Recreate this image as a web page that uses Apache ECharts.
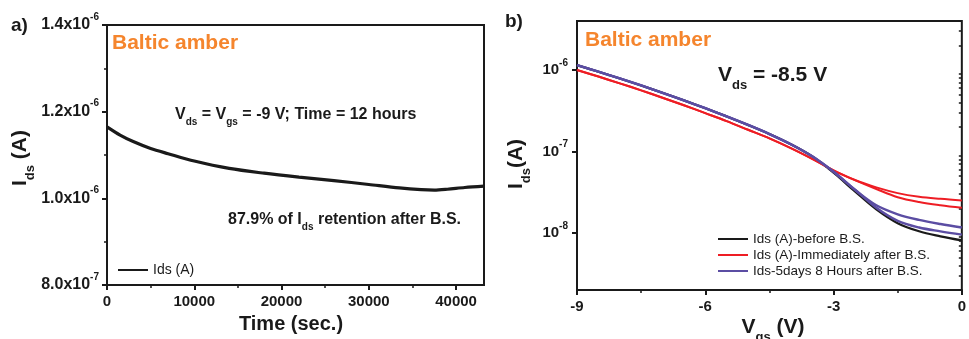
<!DOCTYPE html>
<html>
<head>
<meta charset="utf-8">
<script src="https://cdn.jsdelivr.net/npm/echarts@6/dist/echarts.min.js"></script>
<style>
  html, body { margin: 0; padding: 0; background: #ffffff; }
  #chart { width: 969px; height: 339px; }
</style>
</head>
<body>
<div id="chart"></div>
<script>
// ---- Panel a: drain current during 12 h bias stress ----
const stressTime = [0, 1500, 3000, 5000, 7000, 10000, 14000, 18000, 22000, 26000, 30000, 33500, 36000, 37500, 39000, 41000, 43200];
const stressIds = [1.165e-6, 1.146e-6, 1.131e-6, 1.115e-6, 1.103e-6, 1.086e-6, 1.069e-6, 1.058e-6, 1.049e-6,
                   1.041e-6, 1.032e-6, 1.024e-6, 1.020e-6, 1.019e-6, 1.021e-6, 1.025e-6, 1.028e-6];
const timeMajorTicks = [0, 10000, 20000, 30000, 40000];
const timeMinorTicks = [5000, 15000, 25000, 35000];

// ---- Panel b: transfer curves (forward / reverse sweep) ----
const vgs = [-9, -8.5, -8, -7.5, -7, -6.5, -6, -5.5, -5, -4.5, -4, -3.5, -3, -2.5, -2, -1.5, -1, -0.5, 0];
const idsBefore = [1.15e-6, 9.55e-7, 7.89e-7, 6.47e-7, 5.26e-7, 4.25e-7, 3.40e-7, 2.70e-7, 2.12e-7, 1.64e-7,
                   1.23e-7, 8.73e-8, 5.50e-8, 3.24e-8, 1.95e-8, 1.32e-8, 1.05e-8, 9.12e-9, 8.13e-9];
const idsAfterFwd = [1.00e-6, 8.32e-7, 6.87e-7, 5.64e-7, 4.58e-7, 3.70e-7, 2.96e-7, 2.36e-7, 1.85e-7, 1.45e-7,
                     1.10e-7, 8.13e-8, 5.89e-8, 4.47e-8, 3.63e-8, 3.09e-8, 2.79e-8, 2.63e-8, 2.51e-8];
const idsAfterRev = [1.00e-6, 8.32e-7, 6.87e-7, 5.64e-7, 4.58e-7, 3.70e-7, 2.96e-7, 2.36e-7, 1.85e-7, 1.45e-7,
                     1.10e-7, 8.13e-8, 5.89e-8, 4.47e-8, 3.47e-8, 2.75e-8, 2.40e-8, 2.19e-8, 2.04e-8];
const ids5dFwd = [1.15e-6, 9.55e-7, 7.89e-7, 6.47e-7, 5.26e-7, 4.25e-7, 3.40e-7, 2.70e-7, 2.12e-7, 1.64e-7,
                  1.23e-7, 8.73e-8, 5.64e-8, 3.40e-8, 2.19e-8, 1.70e-8, 1.45e-8, 1.29e-8, 1.17e-8];
const ids5dRev = [1.15e-6, 9.55e-7, 7.89e-7, 6.47e-7, 5.26e-7, 4.25e-7, 3.40e-7, 2.70e-7, 2.12e-7, 1.64e-7,
                  1.23e-7, 8.73e-8, 5.64e-8, 3.40e-8, 2.04e-8, 1.41e-8, 1.17e-8, 1.05e-8, 9.55e-9];
const logMin = 2e-9, logMax = 4e-6;
const decadeExponents = [-8, -7, -6];
const minorMantissas = [2, 3, 4, 5, 6, 7, 8, 9];

const nameBefore = 'Ids (A)-before B.S.';
const nameAfter = 'Ids (A)-Immediately after B.S.';
const name5d = 'Ids-5days 8 Hours after B.S.';

const FONT = "'Liberation Sans', Arial, Helvetica, sans-serif";
const INK = '#1a1a1a';
const ORANGE = '#F5852D';
const RED = '#EE1D24';
const PURPLE = '#5B4DA3';

// log-decade axis is drawn on a linear axis holding log10(I)
const toLog = arr => arr.map(v => Math.log10(v));
const pairs = (xs, ys) => xs.map((x, i) => [x, ys[i]]);
const decadeTicks = decadeExponents.slice();
const minorLogTicks = [];
[-9, -8, -7, -6].forEach(e => minorMantissas.forEach(m => {
  const v = Math.log10(m * Math.pow(10, e));
  if (v > Math.log10(logMin) - 1e-9 && v < Math.log10(logMax) + 1e-9) minorLogTicks.push(v);
}));

const tickLabel = { fontFamily: FONT, fontWeight: 'bold', color: INK };

function sciLabel(v) {
  const e = Math.floor(Math.log10(v) + 1e-9);
  const m = v / Math.pow(10, e);
  return '{m|' + m.toFixed(1) + 'x10}{e|' + e + '}';
}

const chart = echarts.init(document.getElementById('chart'), null, { renderer: 'canvas' });

const richMain16 = { fontSize: 16, fontWeight: 'bold', fontFamily: FONT, fill: INK, lineHeight: 24, verticalAlign: 'middle' };
const richSub10 = { fontSize: 10, fontWeight: 'bold', fontFamily: FONT, fill: INK, lineHeight: 10, verticalAlign: 'bottom' };
const richMain21 = { fontSize: 21, fontWeight: 'bold', fontFamily: FONT, fill: INK, lineHeight: 34, verticalAlign: 'middle' };
const richSub13 = { fontSize: 13, fontWeight: 'bold', fontFamily: FONT, fill: INK, lineHeight: 14, verticalAlign: 'bottom' };

function label(x, y, text, rich, extra) {
  return {
    type: 'text', x: x, y: y, silent: true,
    style: Object.assign({ text: text, rich: rich, fill: INK, fontFamily: FONT, align: 'left', verticalAlign: 'middle' }, extra || {})
  };
}

function curve(name, xs, ys, color, width) {
  return {
    name: name, type: 'line', xAxisIndex: 2, yAxisIndex: 1, symbol: 'none', smooth: 0.35,
    lineStyle: { color: color, width: width }, itemStyle: { color: color },
    data: pairs(xs, toLog(ys))
  };
}

const option = {
  animation: false,
  backgroundColor: '#ffffff',
  grid: [
    { left: 107, top: 25, width: 377, height: 260, show: true, borderColor: INK, borderWidth: 2 },
    { left: 577, top: 21, width: 390, height: 269, show: true, borderColor: INK, borderWidth: 2 }
  ],
  xAxis: [
    { // time axis
      type: 'value', gridIndex: 0, position: 'bottom', min: 0, max: 43200,
      axisLine: { show: true, lineStyle: { color: INK, width: 2 } },
      axisTick: { show: true, length: 5, lineStyle: { color: INK, width: 2 }, customValues: timeMajorTicks },
      axisLabel: Object.assign({ fontSize: 15, margin: 9, customValues: timeMajorTicks, formatter: v => String(v) }, tickLabel),
      splitLine: { show: false }
    },
    { // time axis minor ticks
      type: 'value', gridIndex: 0, position: 'bottom', min: 0, max: 43200,
      axisLine: { show: false },
      axisTick: { show: true, length: 3, lineStyle: { color: INK, width: 1.5 }, customValues: timeMinorTicks },
      axisLabel: { show: false },
      splitLine: { show: false }
    },
    { // gate voltage axis
      type: 'value', gridIndex: 1, position: 'bottom', min: -9, max: 0, interval: 3,
      axisLine: { show: true, onZero: false, lineStyle: { color: INK, width: 2 } },
      axisTick: { show: true, length: 5, lineStyle: { color: INK, width: 2 } },
      minorTick: { show: true, splitNumber: 2, length: 3, lineStyle: { color: INK, width: 1.5 } },
      axisLabel: Object.assign({ fontSize: 15, margin: 9 }, tickLabel),
      splitLine: { show: false }, minorSplitLine: { show: false }
    }
  ],
  yAxis: [
    { // Ids linear
      type: 'value', gridIndex: 0, position: 'left', min: 8e-7, max: 1.4e-6, interval: 2e-7,
      axisLine: { show: true, lineStyle: { color: INK, width: 2 } },
      axisTick: { show: true, length: 5, lineStyle: { color: INK, width: 2 } },
      minorTick: { show: true, splitNumber: 2, length: 3, lineStyle: { color: INK, width: 1.5 } },
      axisLabel: {
        margin: 8, formatter: sciLabel,
        rich: {
          m: { fontSize: 16, fontWeight: 'bold', fontFamily: FONT, color: INK, lineHeight: 26, verticalAlign: 'middle' },
          e: { fontSize: 10, fontWeight: 'bold', fontFamily: FONT, color: INK, lineHeight: 10, verticalAlign: 'top' }
        }
      },
      splitLine: { show: false }, minorSplitLine: { show: false }
    },
    { // Ids log decades
      type: 'value', gridIndex: 1, position: 'left', min: Math.log10(logMin), max: Math.log10(logMax),
      axisLine: { show: true, onZero: false, lineStyle: { color: INK, width: 2 } },
      axisTick: { show: true, length: 5, lineStyle: { color: INK, width: 2 }, customValues: decadeTicks },
      axisLabel: {
        margin: 9, customValues: decadeTicks,
        formatter: v => '{m|10}{e|' + Math.round(v) + '}',
        rich: {
          m: { fontSize: 15, fontWeight: 'bold', fontFamily: FONT, color: INK, lineHeight: 24, verticalAlign: 'middle' },
          e: { fontSize: 10, fontWeight: 'bold', fontFamily: FONT, color: INK, lineHeight: 10, verticalAlign: 'top' }
        }
      },
      splitLine: { show: false }
    },
    { // log minor ticks
      type: 'value', gridIndex: 1, position: 'left', min: Math.log10(logMin), max: Math.log10(logMax),
      axisLine: { show: false },
      axisTick: { show: true, length: 3, lineStyle: { color: INK, width: 1.5 }, customValues: minorLogTicks },
      axisLabel: { show: false },
      splitLine: { show: false }
    }
  ],
  legend: [
    {
      data: ['Ids (A)'], orient: 'vertical', left: 113, top: 257,
      icon: 'rect', itemWidth: 30, itemHeight: 2, itemGap: 0,
      textStyle: { fontFamily: FONT, fontSize: 14, color: INK, lineHeight: 16 }
    },
    {
      data: [nameBefore, nameAfter, name5d], orient: 'vertical', left: 713, top: 226,
      icon: 'rect', itemWidth: 30, itemHeight: 2, itemGap: 0,
      textStyle: { fontFamily: FONT, fontSize: 13.5, color: INK, lineHeight: 16 }
    }
  ],
  series: [
    {
      name: 'Ids (A)', type: 'line', xAxisIndex: 0, yAxisIndex: 0, symbol: 'none', smooth: 0.3,
      lineStyle: { color: INK, width: 3.2 }, itemStyle: { color: INK },
      data: pairs(stressTime, stressIds)
    },
    curve(nameBefore, vgs, idsBefore, INK, 2.2),
    curve(nameAfter, vgs, idsAfterFwd, RED, 2),
    curve(nameAfter, vgs, idsAfterRev, RED, 2),
    curve(name5d, vgs, ids5dFwd, PURPLE, 2.4),
    curve(name5d, vgs, ids5dRev, PURPLE, 2.4)
  ],
  graphic: [
    // panel tags
    label(11, 26, 'a)', null, { fontSize: 19, fontWeight: 'bold' }),
    label(505, 22, 'b)', null, { fontSize: 19, fontWeight: 'bold' }),
    // sample name
    label(112, 43, 'Baltic amber', null, { fontSize: 21, fontWeight: 'bold', fill: ORANGE }),
    label(585, 40, 'Baltic amber', null, { fontSize: 21, fontWeight: 'bold', fill: ORANGE }),
    // stress conditions
    label(175, 115, '{m|V}{s|ds}{m| = V}{s|gs}{m| = -9 V; Time = 12 hours}', { m: richMain16, s: richSub10 }),
    label(228, 220, '{m|87.9% of I}{s|ds}{m| retention after B.S.}', { m: richMain16, s: richSub10 }),
    label(718, 75, '{m|V}{s|ds}{m| = -8.5 V}', { m: richMain21, s: richSub13 }),
    // axis titles
    label(291, 324, 'Time (sec.)', null, { fontSize: 20, fontWeight: 'bold', align: 'center' }),
    label(773, 327, '{m|V}{s|gs}{m| (V)}', { m: richMain21, s: richSub13 }, { align: 'center' }),
    Object.assign(label(20, 158, '{m|I}{s|ds}{m| (A)}', { m: richMain21, s: richSub13 }, { align: 'center' }), { rotation: Math.PI / 2 }),
    Object.assign(label(516, 164, '{m|I}{s|ds}{m|(A)}', { m: richMain21, s: richSub13 }, { align: 'center' }), { rotation: Math.PI / 2 })
  ]
};

chart.setOption(option);
</script>
</body>
</html>
